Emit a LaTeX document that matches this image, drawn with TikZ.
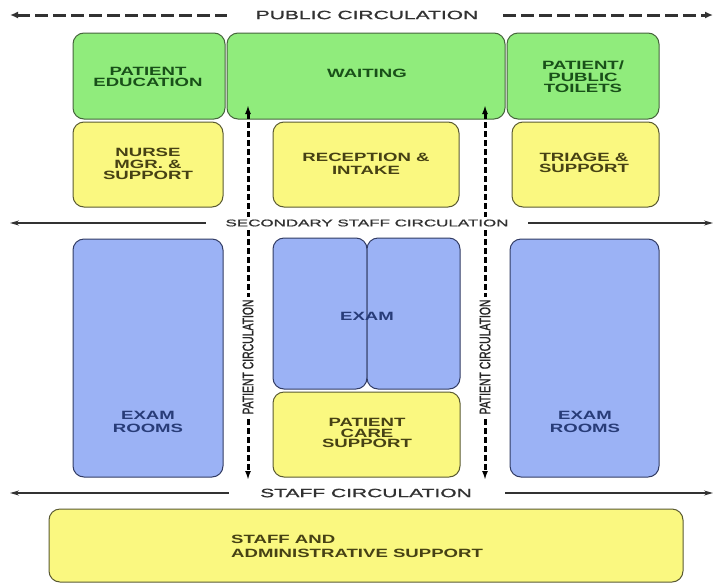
\documentclass[tikz,border=0pt]{standalone}
\usepackage{fontspec}
\setmainfont{Liberation Sans}
\newfontfamily\boxfont[FakeStretch=1.55]{Liberation Sans}
\newfontfamily\circfont[FakeStretch=1.75,FakeBold=1.2]{Liberation Sans}
\newfontfamily\pcfont[FakeBold=1.6]{Liberation Sans}
\usetikzlibrary{arrows.meta}
\definecolor{gfill}{RGB}{144,236,124}
\definecolor{gdraw}{RGB}{70,100,60}
\definecolor{gtext}{RGB}{25,80,25}
\definecolor{yfill}{RGB}{250,248,128}
\definecolor{ydraw}{RGB}{90,90,50}
\definecolor{ytext}{RGB}{70,65,20}
\definecolor{bfill}{RGB}{155,178,245}
\definecolor{bdraw}{RGB}{50,60,100}
\definecolor{btext}{RGB}{40,60,120}
\definecolor{circ}{RGB}{50,50,50}
\tikzset{
  room/.style={rounded corners=11pt, line width=1pt, anchor=north west, inner sep=0pt, outer sep=0pt},
  greenroom/.style={room, fill=gfill, draw=gdraw},
  yellowroom/.style={room, fill=yfill, draw=ydraw},
  blueroom/.style={room, fill=bfill, draw=bdraw},
  lbl/.style={align=center, inner sep=0pt, font={\boxfont\bfseries\fontsize{12pt}{11.5pt}\selectfont}},
  lblwide/.style={lbl, font={\boxfont\bfseries\fontsize{12pt}{13.3pt}\selectfont}},
  glbl/.style={lbl, text=gtext},
  ylbl/.style={lbl, text=ytext},
  blbl/.style={lbl, text=btext},
  circlbl/.style={inner sep=3pt, fill=white, text=circ, font={\circfont\fontsize{12pt}{14pt}\selectfont}},
  pubdash/.style={draw=circ, line width=3pt, dash pattern=on 13pt off 5pt},
  circline/.style={draw=circ, line width=1.3pt},
  pdash/.style={draw=black, line width=3pt, dash pattern=on 6pt off 3pt},
  ptxt/.style={rotate=90, fill=white, inner sep=3pt, text=black!85, font={\pcfont\fontsize{10.4pt}{12pt}\selectfont}},
}
\begin{document}
\begin{tikzpicture}[x=1pt,y=-1pt]
\useasboundingbox[fill=white] (0,0) rectangle (717,584);
% rooms
\node[greenroom, minimum width=152pt, minimum height=86pt] (pe) at (73,33) {};
\node[greenroom, minimum width=278pt, minimum height=86pt] (wait) at (227,33) {};
\node[greenroom, minimum width=152pt, minimum height=86pt] (toil) at (507,33) {};
\node[yellowroom, minimum width=150pt, minimum height=85pt] (nurse) at (73,122) {};
\node[yellowroom, minimum width=186pt, minimum height=85pt] (recep) at (273,122) {};
\node[yellowroom, minimum width=147pt, minimum height=85pt] (triage) at (512,122) {};
\node[blueroom, minimum width=150pt, minimum height=238pt] (examL) at (73,239) {};
\node[blueroom, minimum width=94pt, minimum height=151pt] (exam1) at (273,238) {};
\node[blueroom, minimum width=93pt, minimum height=151pt] (exam2) at (367,238) {};
\node[yellowroom, minimum width=187pt, minimum height=85pt] (pcs) at (273,392) {};
\node[blueroom, minimum width=149pt, minimum height=238pt] (examR) at (510,239) {};
\node[yellowroom, minimum width=634pt, minimum height=73pt] (staff) at (49,509) {};
% circulation coordinates
\coordinate (pubA) at (10,15);  \coordinate (pubB) at (227,15);
\coordinate (pubC) at (503,15); \coordinate (pubD) at (713,15);
\coordinate (secA) at (10,223); \coordinate (secB) at (206,223);
\coordinate (secC) at (528,223); \coordinate (secD) at (713,223);
\coordinate (stA) at (10,493);  \coordinate (stB) at (229,493);
\coordinate (stC) at (505,493); \coordinate (stD) at (713,493);
\coordinate (pcLtop) at (248,105); \coordinate (pcLbot) at (248,480);
\coordinate (pcRtop) at (485,105); \coordinate (pcRbot) at (485,480);
% circulation lines
\draw[pubdash, {Latex[length=8pt,width=7pt]}-] (pubA) -- (pubB);
\draw[pubdash, -{Latex[length=8pt,width=7pt]}] (pubC) -- (pubD);
\draw[circline, {Stealth[length=9pt,width=5pt]}-] (secA) -- (secB);
\draw[circline, -{Stealth[length=9pt,width=5pt]}] (secC) -- (secD);
\draw[circline, {Stealth[length=9pt,width=5pt]}-] (stA) -- (stB);
\draw[circline, -{Stealth[length=9pt,width=5pt]}] (stC) -- (stD);
\draw[pdash, {Latex[length=9pt,width=6pt]}-{Latex[length=9pt,width=6pt]}] (pcLtop) -- (pcLbot);
\draw[pdash, {Latex[length=9pt,width=6pt]}-{Latex[length=9pt,width=6pt]}] (pcRtop) -- (pcRbot);
% circulation labels
\node[circlbl] (publbl) at (367,15) {PUBLIC CIRCULATION};
\node[circlbl, font={\circfont\fontsize{9.7pt}{12pt}\selectfont}] (seclbl) at (367,223) {SECONDARY STAFF CIRCULATION};
\node[circlbl] (stlbl) at (366,493) {STAFF CIRCULATION};
\node[ptxt] (pcLlbl) at (248,357) {\scalebox{1}[1.45]{PATIENT CIRCULATION}};
\node[ptxt] (pcRlbl) at (485,357) {\scalebox{1}[1.45]{PATIENT CIRCULATION}};
% room labels
\node[glbl] (pet) at (148,77) {PATIENT\\EDUCATION};
\node[glbl] (waitt) at (367,73) {WAITING};
\node[glbl] (toilt) at (583,77) {PATIENT/\\PUBLIC\\TOILETS};
\node[ylbl] (nurset) at (148,164) {NURSE\\MGR. \&\\SUPPORT};
\node[ylbl, lblwide, text=ytext] (recept) at (366,163.5) {RECEPTION \&\\INTAKE};
\node[ylbl] (triaget) at (584,163) {TRIAGE \&\\SUPPORT};
\node[blbl, lblwide, text=btext] (examLt) at (148,422) {EXAM\\ROOMS};
\node[blbl] (examt) at (367,316) {EXAM};
\node[ylbl, font={\boxfont\bfseries\fontsize{12pt}{10.5pt}\selectfont}] (pcst) at (367,433) {PATIENT\\CARE\\SUPPORT};
\node[blbl, lblwide, text=btext] (examRt) at (585,422) {EXAM\\ROOMS};
\node[ylbl, lblwide, text=ytext, align=left, anchor=west] (stafft) at (231,546.5) {STAFF AND\\ADMINISTRATIVE SUPPORT};
\end{tikzpicture}
\end{document}
